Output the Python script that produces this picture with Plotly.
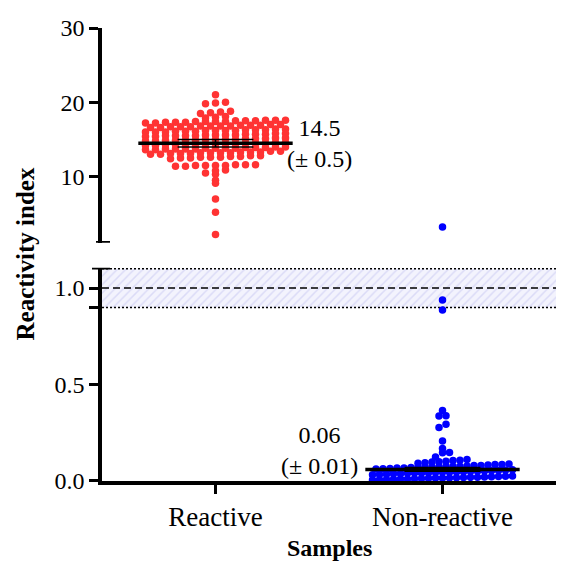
import plotly.graph_objects as go

# Data
categories = ["Reactive", "Non-reactive"]

reactive = [
    21.0,
    19.8, 19.9, 20.0,
    18.5, 18.6, 18.7, 18.8,
    17.9, 18.0, 18.1,
    17.2, 17.2, 17.3, 17.3, 17.3, 17.4, 17.4, 17.4, 17.4, 17.5, 17.5, 17.5, 17.6, 17.6, 17.6,
    16.6, 16.6, 16.7, 16.7, 16.7, 16.8, 16.8, 16.8, 16.8, 16.9, 16.9, 16.9, 17.0, 17.0,
    16.0, 16.0, 16.0, 16.1, 16.1, 16.1, 16.2, 16.2, 16.2, 16.2, 16.3, 16.3, 16.3, 16.4, 16.4,
    15.4, 15.4, 15.5, 15.5, 15.5, 15.5, 15.6, 15.6, 15.6, 15.6, 15.7, 15.7, 15.7, 15.8, 15.8,
    14.8, 14.8, 14.9, 14.9, 14.9, 14.9, 15.0, 15.0, 15.0, 15.0, 15.1, 15.1, 15.1, 15.2, 15.2,
    14.2, 14.2, 14.3, 14.3, 14.3, 14.3, 14.4, 14.4, 14.4, 14.4, 14.5, 14.5, 14.5, 14.6, 14.6,
    13.6, 13.6, 13.7, 13.7, 13.7, 13.7, 13.8, 13.8, 13.8, 13.8, 13.9, 13.9, 13.9, 14.0, 14.0,
    13.0, 13.0, 13.1, 13.1, 13.1, 13.2, 13.2, 13.2, 13.2, 13.3, 13.3, 13.3, 13.4, 13.4,
    12.4, 12.5, 12.5, 12.6, 12.6, 12.6, 12.7, 12.7, 12.8, 12.8,
    11.4, 11.4, 11.5, 11.5, 11.5, 11.5, 11.6, 11.6, 11.6,
    10.3, 10.5, 10.8, 10.9,
    9.5, 9.1,
    7.0, 5.2, 2.2,
]

non_reactive = [
    0.005, 0.006, 0.008, 0.009, 0.010, 0.011, 0.012, 0.013, 0.014, 0.015, 0.015,
    0.016, 0.017, 0.018, 0.019, 0.020, 0.021, 0.022, 0.023, 0.024, 0.026,
    0.032, 0.034, 0.035, 0.037, 0.038, 0.040, 0.041, 0.042, 0.043, 0.044, 0.045,
    0.046, 0.047, 0.048, 0.049, 0.050, 0.052, 0.053, 0.055, 0.056, 0.058,
    0.062, 0.064, 0.065, 0.067, 0.068, 0.070, 0.071, 0.072, 0.073, 0.074,
    0.075, 0.076, 0.077, 0.078, 0.080, 0.081, 0.083, 0.085, 0.086, 0.088,
    0.092, 0.095, 0.098, 0.100, 0.103, 0.106, 0.108, 0.112,
    0.125, 0.146, 0.148, 0.168, 0.208, 0.277, 0.294, 0.337, 0.338, 0.366,
    0.887, 0.938, 3.2,
]

means = [14.5, 0.06]
sems = [0.5, 0.01]
mean_labels = ["14.5<br>(± 0.5)", "0.06<br>(± 0.01)"]
cutoff = 1.0
grey_zone = [0.9, 1.1]

colors = ["#ff3333", "#0000ff"]
FONT = "Times New Roman, Liberation Serif, DejaVu Serif, serif"

# broken y axis: lower panel 0..1.1, upper panel 1.1..30
low_range = [0, 1.106]
high_range = [1.1, 30]
low_domain = [0, 0.471]
high_domain = [0.526, 1]
x_range = [-0.5, 1.5]

W, H = 556, 563
M = dict(l=94, r=8, t=20, b=90)
px_x = (W - M["l"] - M["r"]) / (x_range[1] - x_range[0])


def swarm_x(vals, center, bin_size, origin, step_px):
    # Prism-like scatter: bin values into rows, spread each row around the centre
    rows = {}
    for i, v in enumerate(vals):
        rows.setdefault(round((v - origin) / bin_size), []).append(i)
    xs = [0.0] * len(vals)
    for idx in rows.values():
        idx.sort(key=lambda i: vals[i])
        n = len(idx)
        for k, i in enumerate(idx):
            xs[i] = center + (k - (n - 1) / 2) * step_px / px_x
    return xs


fig = go.Figure()

# grey zone band and cut-off lines (lower panel)
fig.add_trace(go.Scatter(
    x=[x_range[0], x_range[1], x_range[1], x_range[0], x_range[0]],
    y=[grey_zone[0], grey_zone[0], grey_zone[1], grey_zone[1], grey_zone[0]],
    fill="toself", mode="lines", line=dict(width=0),
    fillcolor="rgba(0,0,0,0)",
    fillpattern=dict(shape="/", fgcolor="#c4c4f0", bgcolor="#f3f3fd", size=6, solidity=0.25),
    hoverinfo="skip", showlegend=False,
))
for yv in grey_zone:
    fig.add_trace(go.Scatter(x=x_range, y=[yv, yv], mode="lines",
                             line=dict(color="black", width=1.5, dash="2px,2px"),
                             hoverinfo="skip", showlegend=False))
fig.add_trace(go.Scatter(x=x_range, y=[cutoff, cutoff], mode="lines",
                         line=dict(color="black", width=1.5, dash="7px,4px"),
                         hoverinfo="skip", showlegend=False))

# points: lower panel rows every 0.03, upper panel rows every 0.6
groups = [reactive, non_reactive]
steps = [10, 7]
for g, vals in enumerate(groups):
    low = [v for v in vals if v <= low_range[1]]
    high = [v for v in vals if v > low_range[1]]
    if low:
        fig.add_trace(go.Scatter(
            x=swarm_x(low, g, 0.03, 0.015, steps[g]), y=low, mode="markers",
            marker=dict(color=colors[g], size=7.5, line=dict(width=0)),
            xaxis="x", yaxis="y", showlegend=False,
        ))
    if high:
        fig.add_trace(go.Scatter(
            x=swarm_x(high, g, 0.6, 0.0, steps[g]), y=high, mode="markers",
            marker=dict(color=colors[g], size=7.5, line=dict(width=0)),
            xaxis="x2", yaxis="y2", showlegend=False,
        ))

# mean lines with SEM error bars
for g, (m, s) in enumerate(zip(means, sems)):
    ax = ("x", "y") if m <= low_range[1] else ("x2", "y2")
    fig.add_trace(go.Scatter(
        x=[g - 0.167, g + 0.167, None, g - 0.167, g + 0.167, None, g, g],
        y=[m - s, m - s, None, m + s, m + s, None, m - s, m + s],
        mode="lines", line=dict(color="black", width=1.5),
        xaxis=ax[0], yaxis=ax[1], hoverinfo="skip", showlegend=False,
    ))
    fig.add_trace(go.Scatter(
        x=[g - 0.34, g + 0.34], y=[m, m], mode="lines",
        line=dict(color="black", width=3.5),
        xaxis=ax[0], yaxis=ax[1], hoverinfo="skip", showlegend=False,
    ))
    fig.add_annotation(
        x=g + 0.46 if g == 0 else g - 0.54, y=m, xref=ax[0], yref=ax[1],
        text=mean_labels[g], showarrow=False, align="center",
        xanchor="center", yanchor="middle" if g == 0 else "bottom",
        yshift=0 if g == 0 else -12,
        font=dict(family=FONT, size=24, color="black"),
    )

axis_style = dict(showline=True, linecolor="black", linewidth=3.5, ticks="outside",
                  ticklen=9, tickwidth=3, tickcolor="black", showgrid=False, zeroline=False,
                  tickfont=dict(family=FONT, size=24, color="black"))

fig.update_layout(
    width=W, height=H,
    margin=M,
    font=dict(family=FONT, color="black"),
    plot_bgcolor="white", paper_bgcolor="white",
    xaxis=dict(domain=[0, 1], range=x_range, anchor="y", tickvals=[0, 1], ticktext=categories,
               **{**axis_style, "tickfont": dict(family=FONT, size=27, color="black")}),
    xaxis2=dict(domain=[0, 1], range=x_range, anchor="y2", visible=False),
    yaxis=dict(domain=low_domain, range=low_range, anchor="x",
               tickvals=[0, 0.5, 0.9, 1.0], ticktext=["0.0", "0.5", "", "1.0"], **axis_style),
    yaxis2=dict(domain=high_domain, range=high_range, anchor="x2",
                tickvals=[10, 20, 30], ticktext=["10", "20", "30"], **axis_style),
    shapes=[
        dict(type="line", xref="paper", yref="y2", xsizemode="pixel", xanchor=0,
             x0=-6, x1=8, y0=high_range[0], y1=high_range[0], line=dict(color="black", width=3.5)),
        dict(type="line", xref="paper", yref="y", xsizemode="pixel", xanchor=0,
             x0=-10, x1=8, y0=low_range[1], y1=low_range[1], line=dict(color="black", width=3.5)),
    ],
)

fig.add_annotation(text="<b>Reactivity index</b>", xref="paper", yref="paper", x=0, y=0.5,
                   xshift=-77, textangle=-90, showarrow=False, xanchor="center", yanchor="middle",
                   font=dict(family=FONT, size=25, color="black"))
fig.add_annotation(text="<b>Samples</b>", xref="paper", yref="paper", x=0.5, y=0,
                   yshift=-67, showarrow=False, xanchor="center", yanchor="middle",
                   font=dict(family=FONT, size=24, color="black"))

fig.write_html("out.html")
